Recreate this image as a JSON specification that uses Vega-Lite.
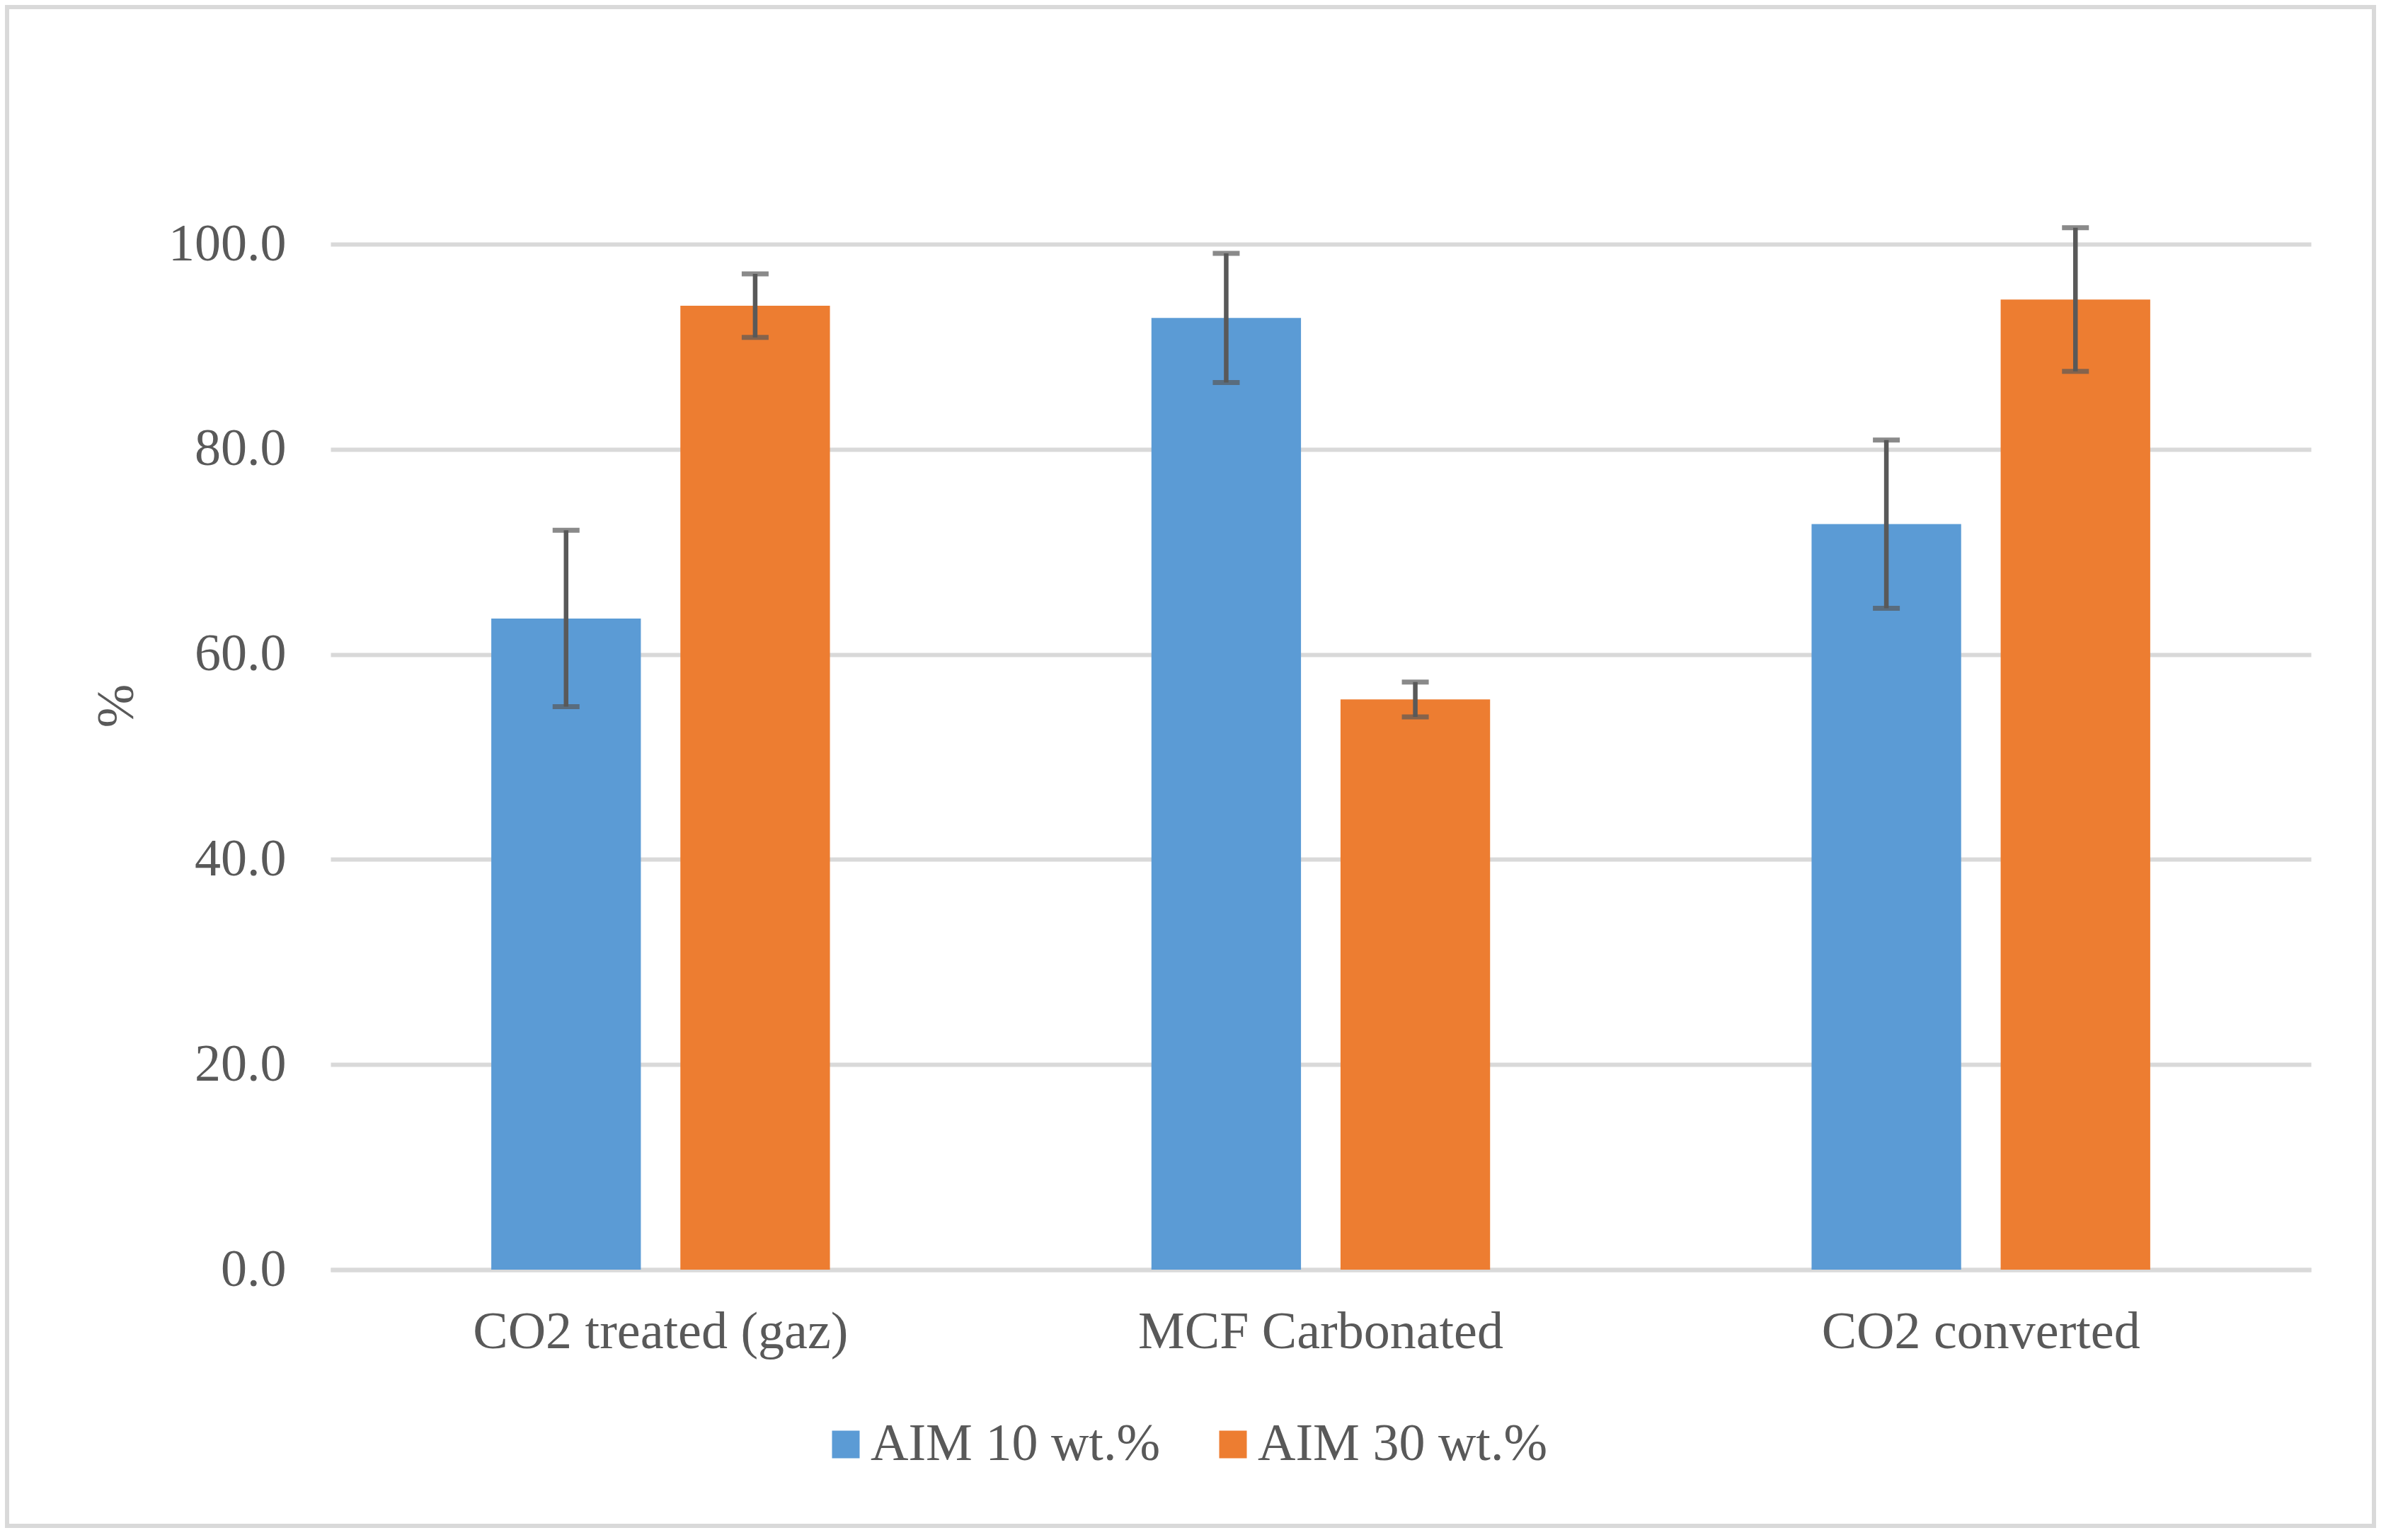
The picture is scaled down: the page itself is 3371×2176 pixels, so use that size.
{
  "$schema": "https://vega.github.io/schema/vega-lite/v6.json",
  "width": 3344,
  "height": 2146,
  "autosize": {"type": "none"},
  "padding": {"left": 10, "top": 10, "right": 17, "bottom": 20},
  "background": "white",
  "config": {
    "view": {"stroke": "#D9D9D9", "strokeWidth": 6},
    "font": "Liberation Serif",
    "axis": {
      "labelFont": "Liberation Serif",
      "labelColor": "#595959",
      "labelFontSize": 74,
      "labelLimit": 0,
      "titleFont": "Liberation Serif",
      "titleColor": "#595959",
      "titleFontWeight": "normal"
    }
  },
  "data": {
    "values": [
      {"category": "CO2 treated (gaz)", "series": "AIM 10 wt.%", "value": 63.5, "lo": 54.9, "hi": 72.1},
      {"category": "CO2 treated (gaz)", "series": "AIM 30 wt.%", "value": 94.0, "lo": 90.9, "hi": 97.1},
      {"category": "MCF Carbonated", "series": "AIM 10 wt.%", "value": 92.8, "lo": 86.5, "hi": 99.1},
      {"category": "MCF Carbonated", "series": "AIM 30 wt.%", "value": 55.6, "lo": 53.9, "hi": 57.3},
      {"category": "CO2 converted", "series": "AIM 10 wt.%", "value": 72.7, "lo": 64.5, "hi": 80.9},
      {"category": "CO2 converted", "series": "AIM 30 wt.%", "value": 94.6, "lo": 87.6, "hi": 101.6}
    ]
  },
  "encoding": {
    "x": {
      "field": "category",
      "type": "nominal",
      "sort": null,
      "scale": {"range": [457, 3255], "paddingInner": 0.487, "paddingOuter": 0.2435},
      "axis": {
        "title": null,
        "orient": "bottom",
        "offset": -362,
        "labelAngle": 0,
        "labelPadding": 52,
        "ticks": false,
        "tickSize": 0,
        "domainColor": "#D9D9D9",
        "domainWidth": 6,
        "grid": false
      }
    },
    "xOffset": {
      "field": "series",
      "type": "nominal",
      "sort": null,
      "scale": {"paddingInner": 0.209, "paddingOuter": 0}
    }
  },
  "layer": [
    {
      "mark": {"type": "bar"},
      "encoding": {
        "y": {
          "field": "value",
          "type": "quantitative",
          "scale": {"domain": [0, 100], "range": [1784, 335], "nice": false},
          "axis": {
            "title": "%",
            "titleFontSize": 74,
            "titleAngle": -90,
            "titleX": -302,
            "titleY": 987,
            "titleAlign": "center",
            "titleBaseline": "middle",
            "orient": "left",
            "offset": -457,
            "values": [0, 20, 40, 60, 80, 100],
            "format": ".1f",
            "labelPadding": 63,
            "ticks": false,
            "tickSize": 0,
            "domain": false,
            "grid": true,
            "gridColor": "#D9D9D9",
            "gridWidth": 6
          }
        },
        "color": {
          "field": "series",
          "type": "nominal",
          "sort": null,
          "scale": {"range": ["#5B9BD5", "#ED7D31"]},
          "legend": {
            "title": null,
            "orient": "none",
            "direction": "horizontal",
            "legendX": 1148,
            "legendY": 1994,
            "symbolType": "square",
            "symbolSize": 1521,
            "symbolStrokeWidth": 0,
            "labelFont": "Liberation Serif",
            "labelFontSize": 74,
            "labelColor": "#595959",
            "labelLimit": 0,
            "labelOffset": -2,
            "columnPadding": 65
          }
        }
      }
    },
    {
      "mark": {"type": "rule", "color": "#595959", "strokeWidth": 6.5},
      "encoding": {
        "y": {"field": "lo", "type": "quantitative"},
        "y2": {"field": "hi"}
      }
    },
    {
      "mark": {"type": "tick", "color": "#595959", "thickness": 7, "size": 38},
      "encoding": {
        "y": {"field": "lo", "type": "quantitative"}
      }
    },
    {
      "mark": {"type": "tick", "color": "#595959", "thickness": 7, "size": 38},
      "encoding": {
        "y": {"field": "hi", "type": "quantitative"}
      }
    }
  ]
}
